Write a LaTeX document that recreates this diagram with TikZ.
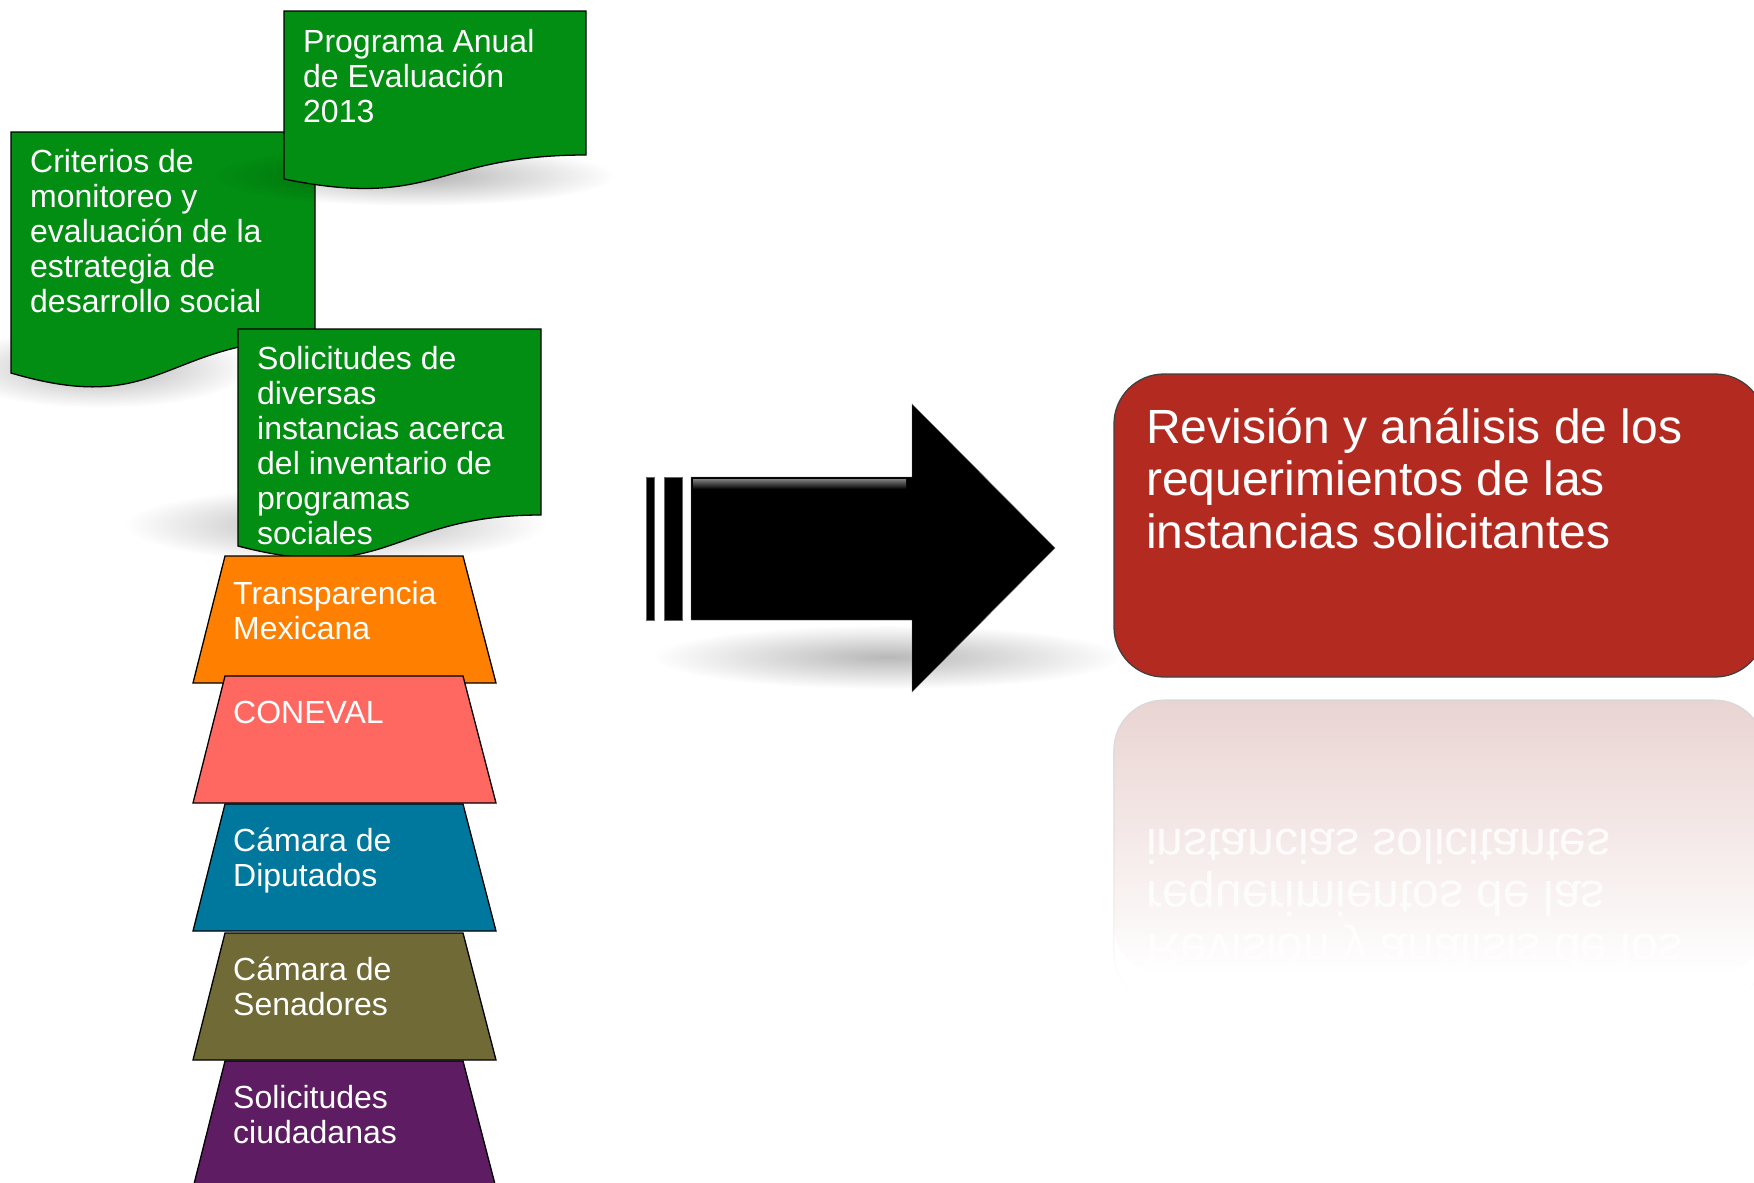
\documentclass[tikz,border=0pt]{standalone}
\usepackage{fontspec}
\setmainfont{Liberation Sans}
\usetikzlibrary{fadings}

\definecolor{docgreen}{RGB}{2,142,18}
\definecolor{layerorange}{RGB}{255,128,0}
\definecolor{layercoral}{RGB}{255,104,97}
\definecolor{layerteal}{RGB}{0,120,158}
\definecolor{layerolive}{RGB}{112,106,55}
\definecolor{layerpurple}{RGB}{94,28,98}
\definecolor{boxred}{RGB}{179,42,33}
\definecolor{reflpink}{RGB}{233,212,210}

\tikzfading[name=softblob, inner color=transparent!0, outer color=transparent!100]

\begin{document}
\begin{tikzpicture}[x=1pt, y=-1pt]
\tikzstyle{doc} = [draw=black, fill=docgreen, line width=1.3pt]
\tikzstyle{doctext} = [anchor=base west, inner sep=0pt, align=left, text=white, font=\fontsize{32}{35}\selectfont]
\tikzstyle{layer} = [draw=black, line width=1.3pt]
\tikzstyle{layertext} = [anchor=base west, inner sep=0pt, align=left, text=white, font=\fontsize{32}{34.5}\selectfont]
\tikzstyle{redbox} = [draw=black!75, fill=boxred, line width=1.3pt, rounded corners=50pt]
\tikzstyle{boxtext} = [anchor=base west, inner sep=0pt, align=left, text=white, font=\fontsize{48}{52.5}\selectfont]
\tikzstyle{softshadow} = [fill=black, opacity=0.3, path fading=softblob]

\useasboundingbox (0,0) rectangle (1754,1183);
\clip (0,0) rectangle (1754,1183);

% documentos de entrada (el texto se ancla en la linea base de su ultima linea)
\fill[softshadow] (100,368) ellipse [x radius=150, y radius=40];
\draw[doc] (11,132) -- (315,132) -- (315,339) .. controls (163,339) and (163,418) .. (11,373) -- cycle;
\node (criterios) [doctext] at (30,312) {Criterios de\\monitoreo y\\evaluación de la\\estrategia de\\desarrollo social};

\fill[softshadow] (415,176) ellipse [x radius=200, y radius=30];
\draw[doc] (284,11) -- (586,11) -- (586,155) .. controls (435,155) and (435,210) .. (284,179) -- cycle;
\node (programa) [doctext] at (303,122) {Programa Anual\\de Evaluación\\2013};

\fill[softshadow] (335,525) ellipse [x radius=210, y radius=38];
\draw[doc] (238,329) -- (541,329) -- (541,515) .. controls (390,515) and (390,586) .. (238,546) -- cycle;
\node (solicitudes) [doctext] at (257,544) {Solicitudes de\\diversas\\instancias acerca\\del inventario de\\programas\\sociales};

% instancias solicitantes
\foreach \ytop/\off/\col/\name/\txt in {556/83/layerorange/transparencia/{Transparencia\\Mexicana},
    676/47/layercoral/coneval/{CONEVAL},
    804/82/layerteal/diputados/{Cámara de\\Diputados},
    933/82/layerolive/senadores/{Cámara de\\Senadores},
    1061/82/layerpurple/ciudadanas/{Solicitudes\\ciudadanas}} {
  \draw[layer, fill=\col] (225,\ytop) -- (463,\ytop) -- (496,\ytop+127) -- (193,\ytop+127) -- cycle;
  \node (\name) [layertext] at (233,\ytop+\off) {\txt};
}

% flecha
\fill[softshadow, opacity=0.28] (888,657) ellipse [x radius=235, y radius=32];
\fill[draw=black!60] (646,477) rectangle (654,620);
\fill[draw=black!60] (664,477) rectangle (682,620);
\fill[draw=black!60] (691,477) -- (912,477) -- (912,404) -- (1055,548) -- (912,692) -- (912,620) -- (691,620) -- cycle;
\shade[top color=black!50, bottom color=black] (693,479) rectangle (906,489);

% resultado
\draw[redbox] (1114,374) rectangle (1765,677);
\node (revision) [boxtext] at (1146,548) {Revisión y análisis de los\\requerimientos de las\\instancias solicitantes};

% reflejo
\shade[top color=reflpink, middle color=reflpink!40, bottom color=white, rounded corners=50pt] (1114,700) rectangle (1765,975);
\draw[black!15, line width=1.3pt, rounded corners=50pt, path fading=south] (1114,700) rectangle (1765,1003);
\node (reflejo) [boxtext, yscale=-1, opacity=0.85] at (1146,829) {Revisión y análisis de los\\requerimientos de las\\instancias solicitantes};

\end{tikzpicture}
\end{document}
